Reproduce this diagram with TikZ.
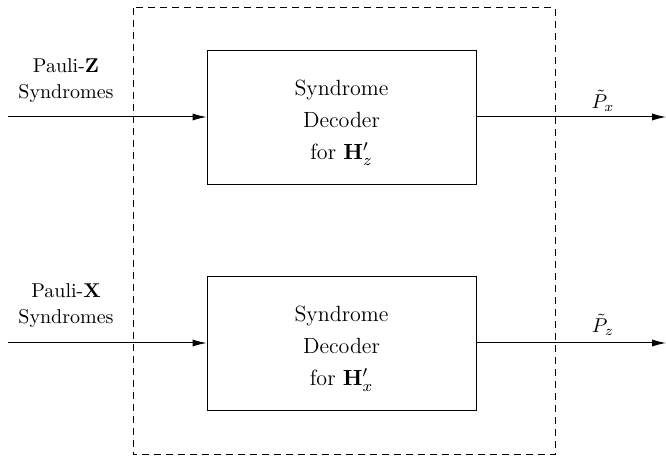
\documentclass[tikz,border=0pt]{standalone}
\usepackage{amsmath}
\usepackage{amssymb}
\usepackage{tikz}
\usetikzlibrary{arrows.meta,positioning}
\tikzset{
  every picture/.style = {
    line width = 0.5pt,
    >={Latex[length=7pt,width=3.6pt]},
    x = 0.5pt,
    y = -0.5pt,
  }
  ,
  decoder/.style = {
    rectangle,
    draw,
    align = center,
    font = \fontsize{11}{16}\selectfont,
    minimum width = 134.5pt,
    minimum height = 67pt,
    inner sep = 0pt
  }
  , % labels of inputs
  label-in/.style = {
    align = center,
    font = \normalsize,
    inner sep = 0pt
  }
  , % labels of outputs
  label-out/.style = {
    font = \normalsize,
    inner sep = 0pt
  }
  ,
  frame/.style = {
    dash pattern = on 3.5pt off 2.5pt
  }
}
\begin{document}
\begin{tikzpicture}
    \useasboundingbox (0,0) rectangle (666,460);
    \draw[frame] (133,8) rectangle (555,455);
    \node[decoder] at (341.5,118) (decz) {\rule{0pt}{12.5pt}Syndrome\\Decoder\\for $\mathbf{H}'_z$};
    \node[decoder] at (341.5,344) (decx) {\rule{0pt}{12.5pt}Syndrome\\Decoder\\for $\mathbf{H}'_x$};
    \coordinate (inz) at (8,117);
    \coordinate (inx) at (8,343);
    \coordinate (outz) at (666,117);
    \coordinate (outx) at (666,343);
    \node[label-in] at (66,81) (lz) {Pauli-$\mathbf{Z}$\\[1pt]Syndromes};
    \node[label-in] at (66,306) (lx) {Pauli-$\mathbf{X}$\\[1pt]Syndromes};
    \node[label-out] at (603,101) (px) {$\tilde{P}_x$};
    \node[label-out] at (603,325) (pz) {$\tilde{P}_z$};
    \draw[->] (inz) -- (inz -| decz.west);
    \draw[->] (inx) -- (inx -| decx.west);
    \draw[->] (outz -| decz.east) -- (outz);
    \draw[->] (outx -| decx.east) -- (outx);
\end{tikzpicture}
\end{document}
